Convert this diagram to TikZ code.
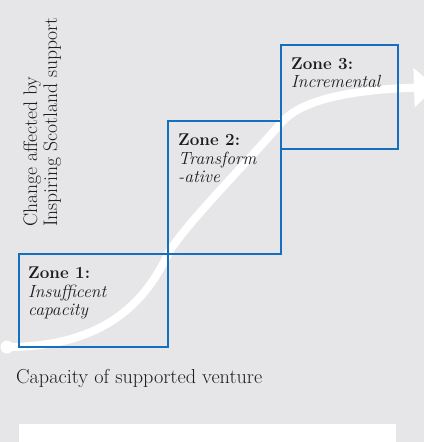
\documentclass[tikz,border=0pt]{standalone}
\usetikzlibrary{arrows.meta}
\definecolor{bgc}{RGB}{230,230,232}
\definecolor{zoneblue}{RGB}{20,112,190}
\definecolor{txt}{RGB}{30,27,28}
\tikzset{
  zonebox/.style={draw=zoneblue, line width=2.6pt, inner sep=0pt, outer sep=0pt, anchor=north west},
  axislab/.style={text=txt, inner sep=0pt, anchor=base west, font=\fontsize{20.2}{22}\selectfont},
  zhead/.style={text=txt, inner sep=0pt, anchor=base west, font=\fontsize{17}{18}\selectfont\bfseries},
  zbody/.style={text=txt, inner sep=0pt, anchor=base west, font=\fontsize{17.6}{18}\selectfont\itshape},
  growth/.style={draw=white, line width=8pt, -{Triangle[width=38pt,length=22pt]}},
}
\begin{document}
\begin{tikzpicture}[x=1pt,y=-1pt]
\fill[bgc] (0,0) rectangle (424,442);
\useasboundingbox (0,0) rectangle (424,442);
% bottom white panel
\node[fill=white, inner sep=0pt, outer sep=0pt, minimum width=377pt, minimum height=22pt, anchor=north west] (panel) at (19,424) {};
% growth curve
\coordinate (start) at (7,347);
\coordinate (c1) at (167,256);
\coordinate (c2) at (281,123);
\coordinate (tipend) at (436,87);
\draw[growth] (start) .. controls (100,347) and (143,306) .. (c1)
  .. controls (179,231) and (243,167) .. (c2)
  .. controls (298,103) and (340,90) .. (tipend);
\fill[white] (start) circle (6.5);
% zone boxes
\node[zonebox, minimum width=149pt, minimum height=93pt] (z1) at (19,254) {};
\node[zonebox, minimum width=113pt, minimum height=133pt] (z2) at (168,121) {};
\node[zonebox, minimum width=117pt, minimum height=104pt] (z3) at (281,45) {};
% zone labels
\node[zhead] (z1h) at (28,278) {Zone 1:};
\node[zbody] (z1a) at (28,297) {Insufficent};
\node[zbody] (z1b) at (28,315) {capacity};
\node[zhead] (z2h) at (178,145) {Zone 2:};
\node[zbody] (z2a) at (178,164) {Transform};
\node[zbody] (z2b) at (178,182) {-ative};
\node[zhead] (z3h) at (291,69) {Zone 3:};
\node[zbody] (z3a) at (291,87) {Incremental};
% axis labels
\node[axislab, rotate=90, font=\fontsize{19.6}{22}\selectfont] (ylab1) at (37,227) {Change affected by};
\node[axislab, rotate=90, font=\fontsize{19.6}{22}\selectfont] (ylab2) at (57,227) {Inspiring Scotland support};
\node[axislab] (xlab) at (16,383) {Capacity of supported venture};
\end{tikzpicture}
\end{document}
